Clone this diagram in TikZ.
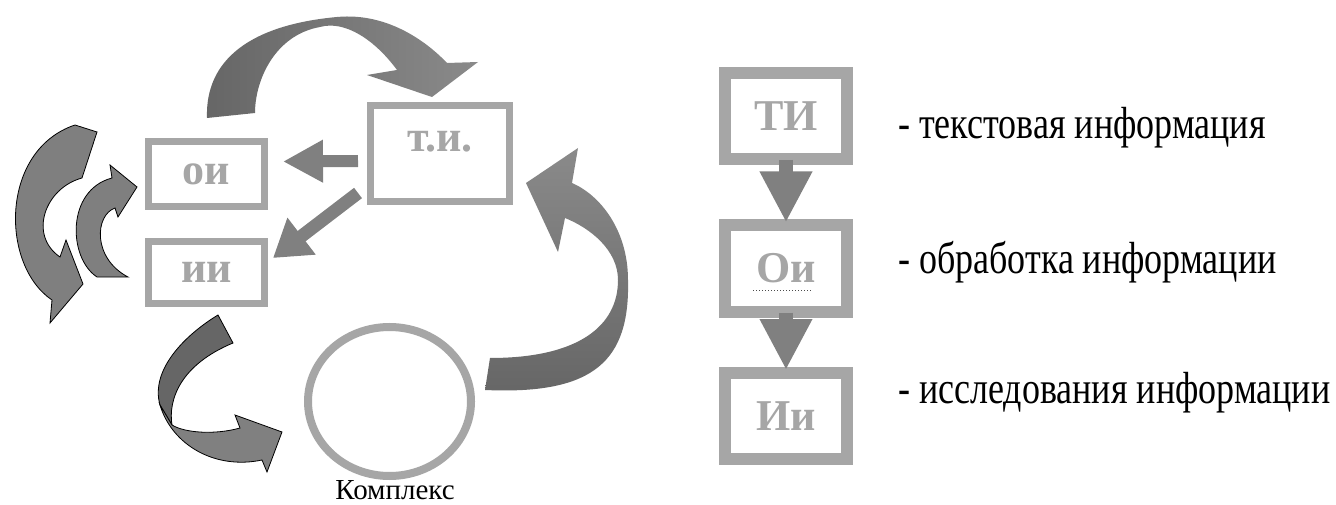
\documentclass[tikz,border=0pt]{standalone}
\usepackage{fontspec}
\setmainfont{Liberation Serif}
\newfontfamily\legfont[FakeStretch=0.8]{Liberation Serif}
\usetikzlibrary{arrows.meta,calc,shapes.geometric}
\definecolor{boxgray}{HTML}{A6A6A6}
\definecolor{arrgray}{HTML}{808080}
\definecolor{darkarr}{HTML}{666666}
\definecolor{lightarr}{HTML}{8A8A8A}
\definecolor{carr}{HTML}{7F7F7F}
\tikzset{
 gbox/.style={draw=boxgray, line width=7pt, minimum width=116pt, minimum height=65pt, inner sep=0pt, text=boxgray, font=\fontsize{44}{48}\selectfont\bfseries},
 legbox/.style={draw=boxgray, line width=12pt, minimum width=122pt, minimum height=86pt, inner sep=0pt, text=boxgray, font=\fontsize{44}{48}\selectfont\bfseries},
 fatarrow/.style={draw=arrgray, line width=12pt, -{Triangle[length=40pt,width=40pt]}},
 diagarrow/.style={draw=arrgray, line width=13pt, -{Triangle[length=36pt,width=44pt]}},
 legarrow/.style={draw=arrgray, line width=14pt, -{Triangle[length=51pt,width=49pt]}},
 legtext/.style={anchor=base west, inner sep=0pt, font=\legfont\fontsize{45}{48}\selectfont},
 outlined/.style={draw=black, line width=0.8pt, fill=carr},
}
\begin{document}
\begin{tikzpicture}[x=1pt,y=-1pt]
\fill[white] (0,0) rectangle (1336,505);
\useasboundingbox (0,0) rectangle (1336,505);

% curved block arrows
\shade[left color=darkarr, right color=lightarr]
  (207,118) .. controls (205,60) and (250,25) .. (337,17)
  .. controls (390,12) and (430,45) .. (447,63)
  -- (478,62) -- (432,97) -- (367,75) -- (397,70)
  .. controls (375,40) and (345,20) .. (320,27)
  .. controls (275,35) and (255,80) .. (255,113) -- cycle;

\shade[top color=lightarr, bottom color=darkarr]
  (485,390) .. controls (595,395) and (630,360) .. (628,280)
  .. controls (628,230) and (600,195) .. (572,183)
  -- (578,148) -- (526,183) -- (558,252) -- (565,218)
  .. controls (590,228) and (618,250) .. (618,280)
  .. controls (618,325) and (580,358) .. (490,358) -- cycle;

\filldraw[outlined, fill=darkarr]
  (218,315) .. controls (185,335) and (150,370) .. (160,405)
  -- (172,425) .. controls (168,400) and (180,365) .. (233,343) -- cycle;
\filldraw[outlined, fill=arrgray]
  (160,405) .. controls (172,445) and (215,470) .. (262,460)
  -- (267,472) -- (282,432) -- (235,415) -- (240,428)
  .. controls (215,435) and (185,433) .. (172,425) -- cycle;

\filldraw[outlined]
  (75,125) -- (97,132) -- (82,178)
  .. controls (45,188) and (28,235) .. (60,257)
  -- (66,240) -- (83,284) -- (50,323) -- (52,300)
  .. controls (0,265) and (0,150) .. (75,125) -- cycle;

\filldraw[outlined]
  (97,277) .. controls (68,258) and (66,190) .. (112,178)
  -- (110,165) -- (137,187) -- (118,217) -- (115,208)
  .. controls (95,215) and (92,258) .. (128,277) -- cycle;

% left diagram
\node[gbox] (oi) at (206.5,174) {ои};
\node[gbox, minimum height=62pt] (ii) at (206.5,272.5) {ии};
\node[gbox, minimum width=139pt, minimum height=96pt] (ti) at (440,153.5) {};
\node[text=boxgray, font=\fontsize{44}{48}\selectfont\bfseries, inner sep=0pt] (tilbl) at (440,141.5) {т.и.};
\node[draw=boxgray, line width=8pt, ellipse, minimum width=163pt, minimum height=149pt, inner sep=0pt] (kompl) at (389.5,401.5) {};
\node[font=\fontsize{29}{31}\selectfont, anchor=base, inner sep=0pt] (klbl) at (395,499) {Комплекс};

\draw[fatarrow] ($(ti.west)+(-9,7.5)$) -- ($(oi.east)+(15,-12.5)$);
\draw[diagarrow] ($(ti.west)+(-9,39.5)$) -- ($(ii.east)+(5,-14.5)$);

% legend
\node[legbox] (lti) at (786,116) {ТИ};
\node[legbox] (loi) at (786,268.5) {Ои};
\node[legbox] (lii) at (786,416) {Ии};
\draw[dotted, line width=1pt, black!70] ($(loi.center)+(-33,21.5)$) -- ($(loi.center)+(25,21.5)$);
\draw[legarrow] ($(lti.south)+(0,-5)$) -- ($(loi.north)+(0,3)$);
\draw[legarrow] ($(loi.south)+(0,-5)$) -- ($(lii.north)+(0,3)$);

\node[legtext] (t1) at (898,139) {- текстовая информация};
\node[legtext] (t2) at (898,273) {- обработка информации};
\node[legtext] (t3) at (898,403) {- исследования информации};
\end{tikzpicture}
\end{document}
